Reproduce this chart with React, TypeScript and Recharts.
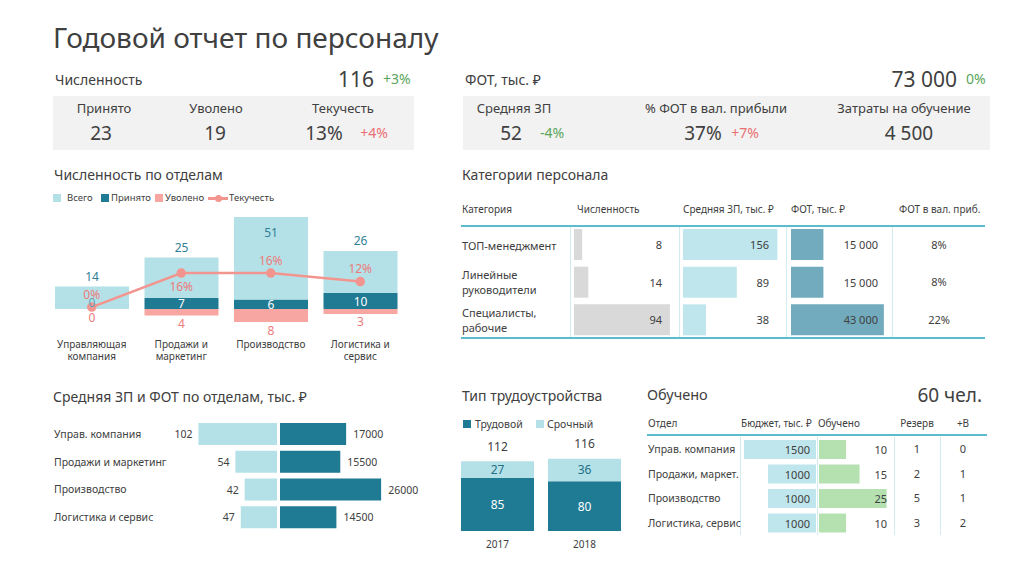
import React from "react";
import { Bar, BarChart, ComposedChart, LabelList, Line, XAxis, YAxis } from "recharts";

// Численность по отделам
const deptNames = ["Управляющая компания", "Продажи и маркетинг", "Производство", "Логистика и сервис"];
const deptTotal = [14, 25, 51, 26];
const deptHired = [0, 7, 6, 10];
const deptFired = [0, 4, 8, 3];
const deptTurnover = [0, 16, 16, 12];

// Средняя ЗП и ФОТ по отделам
const salDepts = ["Управ. компания", "Продажи и маркетинг", "Производство", "Логистика и сервис"];
const salAvg = [102, 54, 42, 47];
const salFot = [17000, 15500, 26000, 14500];

// Тип трудоустройства
const empYears = ["2017", "2018"];
const empPermanent = [85, 80];
const empTemporary = [27, 36];
const empTotal = [112, 116];

// Категории персонала
const catNames = ["ТОП-менеджмент", "Линейные руководители", "Специалисты, рабочие"];
const catCount = [8, 14, 94];
const catSalary = [156, 89, 38];
const catFot = [15000, 15000, 43000];
const catShare = ["8%", "8%", "22%"];

// Обучено
const trainDepts = ["Управ. компания", "Продажи, маркет.", "Производство", "Логистика, сервис"];
const trainBudget = [1500, 1000, 1000, 1000];
const trainCount = [10, 15, 25, 10];
const trainReserve = [1, 2, 5, 3];
const trainPlusB = [0, 1, 1, 2];

const FONT = "'Noto Sans', 'Open Sans', sans-serif";
const INK = "#404040";
const TEAL = "#1f7a93";
const LIGHT = "#b4e1e7";
const PINK = "#f7a6a2";
const LINE_PINK = "#f3958f";
const LABEL_PINK = "#ec7b7b";
const GREEN_TXT = "#5aa65a";
const RED_TXT = "#ea6f73";
const RULE = "#5bbccc";
const SEP = "#d3ecf0";

const spaced = (v: number) => String(v).replace(/\B(?=(\d{3})+(?!\d))/g, " ");
const plain = (v: number) => String(v);

function T({ x, y, size = 13, color = INK, anchor = "start", children }: any) {
  const tx = anchor === "middle" ? "-50%" : anchor === "end" ? "-100%" : "0";
  return (
    <div
      style={{
        position: "absolute",
        left: x,
        top: y,
        transform: `translate(${tx}, -50%)`,
        fontSize: size,
        color,
        lineHeight: 1.2,
        whiteSpace: "nowrap",
      }}
    >
      {children}
    </div>
  );
}

function Rect({ x, y, w, h, color }: any) {
  return <div style={{ position: "absolute", left: x, top: y, width: w, height: h, background: color }} />;
}

function Swatch({ x, y, color }: any) {
  return <Rect x={x} y={y - 4} w={8} h={8} color={color} />;
}

const DeptTick = ({ x, y, payload }: any) => {
  const s: string = payload.value;
  const i = s.lastIndexOf(" ");
  const lines = i > 0 ? [s.slice(0, i), s.slice(i + 1)] : [s];
  return (
    <text x={x} textAnchor="middle" fontSize={10} fill={INK} fontFamily={FONT}>
      {lines.map((l, k) => (
        <tspan key={k} x={x} y={y + 26 + k * 12}>
          {l}
        </tspan>
      ))}
    </text>
  );
};

// labels for the whole stack of one department, placed from the "Всего" bar geometry
const deptStackLabel = (p: any) => {
  const i = p.index;
  const cx = p.x + p.width / 2;
  const top = Math.min(p.y, p.y + p.height);
  const pxPerUnit = Math.abs(p.height) / p.value;
  const base = top + Math.abs(p.height) + deptHired[i] * pxPerUnit;
  const hiredH = deptHired[i] * pxPerUnit;
  const firedBottom = base + deptFired[i] * pxPerUnit;
  const totalY = top < 20 ? top + 15 : top - 10;
  const common = { textAnchor: "middle" as const, dominantBaseline: "central" as const, fontSize: 12, fontFamily: FONT };
  return (
    <g>
      <text x={cx} y={totalY} fill="#2f7f96" {...common}>
        {p.value}
      </text>
      <text x={cx} y={hiredH < 1 ? base - 7 : base - hiredH / 2} fill={hiredH < 1 ? "#5aa6b9" : "#fff"} {...common}>
        {deptHired[i]}
      </text>
      <text x={cx} y={firedBottom + 8} fill={LABEL_PINK} {...common}>
        {deptFired[i]}
      </text>
    </g>
  );
};

function DeptChart() {
  const data = deptNames.map((name, i) => ({
    name,
    hired: deptHired[i],
    total: deptTotal[i],
    fired: -deptFired[i],
    turnover: deptTurnover[i],
  }));
  return (
    <ComposedChart
      width={375}
      height={160}
      data={data}
      stackOffset="sign"
      margin={{ top: 7, right: 10, bottom: 0, left: 7 }}
    >
      <XAxis dataKey="name" axisLine={false} tickLine={false} tickSize={0} tickMargin={0} height={48} tick={<DeptTick />} interval={0} />
      <YAxis yAxisId="l" hide domain={[-8, 57]} allowDataOverflow />
      <YAxis yAxisId="r" hide orientation="right" domain={[-7, 42.4]} allowDataOverflow />
      <Bar yAxisId="l" dataKey="fired" stackId="a" fill={PINK} barSize={74} isAnimationActive={false} />
      <Bar yAxisId="l" dataKey="hired" stackId="a" fill={TEAL} barSize={74} isAnimationActive={false} />
      <Bar yAxisId="l" dataKey="total" stackId="a" fill={LIGHT} barSize={74} isAnimationActive={false}>
        <LabelList dataKey="total" content={deptStackLabel} />
      </Bar>
      <Line
        yAxisId="r"
        dataKey="turnover"
        stroke={LINE_PINK}
        strokeWidth={2.5}
        dot={{ r: 3.5, fill: LINE_PINK, stroke: LINE_PINK }}
        isAnimationActive={false}
      >
        <LabelList
          dataKey="turnover"
          content={(p: any) => (
            <text x={p.x} y={p.index === 1 ? p.y + 13 : p.y - 13} textAnchor="middle" dominantBaseline="central" fontSize={12} fill={LABEL_PINK} fontFamily={FONT}>
              {p.value + "%"}
            </text>
          )}
        />
      </Line>
    </ComposedChart>
  );
}

const SalTick = ({ y, payload }: any) => (
  <text x={14} y={y} dominantBaseline="central" fontSize={10.5} fill={INK} fontFamily={FONT}>
    {payload.value}
  </text>
);

function SalaryCharts() {
  const data = salDepts.map((name, i) => ({ name, avg: salAvg[i], fot: salFot[i] }));
  return (
    <>
      <div style={{ position: "absolute", left: 40, top: 420 }}>
        <BarChart width={238} height={111} data={data} layout="vertical" margin={{ top: 0, right: 1, bottom: 0, left: 0 }}>
          <XAxis type="number" hide reversed domain={[0, 154.5]} />
          <YAxis type="category" dataKey="name" width={118} axisLine={false} tickLine={false} tick={<SalTick />} />
          <Bar dataKey="avg" fill={LIGHT} barSize={22} isAnimationActive={false}>
            <LabelList
              dataKey="avg"
              content={(p: any) => (
                <text x={Math.min(p.x, p.x + p.width) - 6} y={p.y + p.height / 2} textAnchor="end" dominantBaseline="central" fontSize={10.5} fill={INK} fontFamily={FONT}>
                  {p.value}
                </text>
              )}
            />
          </Bar>
        </BarChart>
      </div>
      <div style={{ position: "absolute", left: 280, top: 420 }}>
        <BarChart width={160} height={111} data={data} layout="vertical" margin={{ top: 0, right: 0, bottom: 0, left: 0 }}>
          <XAxis type="number" hide domain={[0, 41130]} />
          <YAxis type="category" dataKey="name" hide />
          <Bar dataKey="fot" fill={TEAL} barSize={22} isAnimationActive={false}>
            <LabelList
              dataKey="fot"
              content={(p: any) => (
                <text x={Math.max(p.x, p.x + p.width) + 7} y={p.y + p.height / 2} dominantBaseline="central" fontSize={10.5} fill={INK} fontFamily={FONT}>
                  {p.value}
                </text>
              )}
            />
          </Bar>
        </BarChart>
      </div>
    </>
  );
}

const YearTick = ({ x, y, payload }: any) => (
  <text x={x} y={y + 13} textAnchor="middle" dominantBaseline="central" fontSize={10} fill={INK} fontFamily={FONT}>
    {payload.value}
  </text>
);

function EmploymentChart() {
  const data = empYears.map((year, i) => ({ year, perm: empPermanent[i], temp: empTemporary[i], total: empTotal[i] }));
  return (
    <BarChart width={174} height={126} data={data} margin={{ top: 20, right: 0, bottom: 0, left: 0 }}>
      <XAxis dataKey="year" axisLine={false} tickLine={false} tickSize={0} tickMargin={0} height={25} tick={<YearTick />} />
      <YAxis hide domain={[0, 130]} />
      <Bar dataKey="perm" stackId="e" fill={TEAL} barSize={73} isAnimationActive={false}>
        <LabelList
          dataKey="perm"
          content={(p: any) => (
            <text x={p.x + p.width / 2} y={p.y + p.height / 2} textAnchor="middle" dominantBaseline="central" fontSize={12} fill="#fff" fontFamily={FONT}>
              {p.value}
            </text>
          )}
        />
      </Bar>
      <Bar dataKey="temp" stackId="e" fill={LIGHT} barSize={73} isAnimationActive={false}>
        <LabelList
          dataKey="temp"
          content={(p: any) => (
            <text x={p.x + p.width / 2} y={p.y + p.height / 2} textAnchor="middle" dominantBaseline="central" fontSize={12} fill="#236f85" fontFamily={FONT}>
              {p.value}
            </text>
          )}
        />
        <LabelList
          dataKey="total"
          content={(p: any) => (
            <text x={p.x + p.width / 2} y={p.y - 15} textAnchor="middle" dominantBaseline="central" fontSize={12} fill={INK} fontFamily={FONT}>
              {p.value}
            </text>
          )}
        />
      </Bar>
    </BarChart>
  );
}

// one column of in-cell bars for the tables
function CellBars({ left, top, width, height, values, max, color, barSize, labelX, reversed, fmt = plain, fontSize = 11 }: any) {
  const data = values.map((v: number, i: number) => ({ row: String(i), v }));
  return (
    <div style={{ position: "absolute", left, top }}>
      <BarChart width={width} height={height} data={data} layout="vertical" margin={{ top: 0, right: 0, bottom: 0, left: 0 }}>
        <XAxis type="number" hide domain={[0, max]} reversed={reversed} />
        <YAxis type="category" dataKey="row" hide />
        <Bar dataKey="v" fill={color} barSize={barSize} isAnimationActive={false}>
          <LabelList
            dataKey="v"
            content={(p: any) => (
              <text x={labelX} y={p.y + p.height / 2} textAnchor="end" dominantBaseline="central" fontSize={fontSize} fill={INK} fontFamily={FONT}>
                {fmt(p.value)}
              </text>
            )}
          />
        </Bar>
      </BarChart>
    </div>
  );
}

export default function App() {
  const catTop = 226;
  const catRow = 37.5;
  const trTop = 437;
  const trRow = 24.5;
  return (
    <div
      style={{
        position: "absolute",
        left: 0,
        top: 0,
        width: 1024,
        height: 574,
        background: "#fff",
        fontFamily: FONT,
        color: INK,
        overflow: "hidden",
      }}
    >
      <T x={53} y={38} size={28}>Годовой отчет по персоналу</T>

      {/* Численность KPI */}
      <T x={55} y={80} size={14}>Численность</T>
      <T x={374} y={80} size={21} anchor="end">116</T>
      <T x={383} y={79} size={14} color={GREEN_TXT}>+3%</T>
      <Rect x={53} y={96} w={361} h={54} color="#f2f2f2" />
      <T x={104} y={109} size={13} anchor="middle">Принято</T>
      <T x={101} y={133} size={19} anchor="middle">23</T>
      <T x={216} y={109} size={13} anchor="middle">Уволено</T>
      <T x={215} y={133} size={19} anchor="middle">19</T>
      <T x={343} y={109} size={13} anchor="middle">Текучесть</T>
      <T x={324} y={133} size={19} anchor="middle">13%</T>
      <T x={374} y={133} size={14} anchor="middle" color={RED_TXT}>+4%</T>

      {/* ФОТ KPI */}
      <T x={465} y={80} size={14}>ФОТ, тыс. ₽</T>
      <T x={957} y={80} size={21} anchor="end">73 000</T>
      <T x={966} y={79} size={14} color={GREEN_TXT}>0%</T>
      <Rect x={463} y={96} w={527} h={54} color="#f2f2f2" />
      <T x={514} y={109} size={13} anchor="middle">Средняя ЗП</T>
      <T x={511} y={133} size={19} anchor="middle">52</T>
      <T x={552} y={133} size={14} anchor="middle" color={GREEN_TXT}>-4%</T>
      <T x={716} y={109} size={13} anchor="middle">% ФОТ в вал. прибыли</T>
      <T x={703} y={133} size={19} anchor="middle">37%</T>
      <T x={745} y={133} size={14} anchor="middle" color={RED_TXT}>+7%</T>
      <T x={904} y={109} size={13} anchor="middle">Затраты на обучение</T>
      <T x={909} y={133} size={19} anchor="middle">4 500</T>

      {/* Численность по отделам */}
      <T x={54} y={175} size={14}>Численность по отделам</T>
      <Swatch x={53} y={198} color={LIGHT} />
      <T x={67} y={198} size={9.5}>Всего</T>
      <Swatch x={101} y={198} color={TEAL} />
      <T x={111} y={198} size={9.5}>Принято</T>
      <Swatch x={155} y={198} color={PINK} />
      <T x={165} y={198} size={9.5}>Уволено</T>
      <Rect x={208} y={197} w={20} h={2.5} color={LINE_PINK} />
      <div style={{ position: "absolute", left: 214.5, top: 194.5, width: 7, height: 7, borderRadius: 4, background: LINE_PINK }} />
      <T x={229} y={198} size={9.5}>Текучесть</T>
      <div style={{ position: "absolute", left: 40, top: 210 }}>
        <DeptChart />
      </div>

      {/* Средняя ЗП и ФОТ по отделам */}
      <T x={53} y={397} size={14}>Средняя ЗП и ФОТ по отделам, тыс. ₽</T>
      <SalaryCharts />

      {/* Тип трудоустройства */}
      <T x={462} y={396} size={14}>Тип трудоустройства</T>
      <Swatch x={463} y={424} color={TEAL} />
      <T x={475} y={424} size={10.5}>Трудовой</T>
      <Swatch x={536} y={424} color={LIGHT} />
      <T x={547} y={424} size={10.5}>Срочный</T>
      <div style={{ position: "absolute", left: 454, top: 430 }}>
        <EmploymentChart />
      </div>

      {/* Категории персонала */}
      <T x={462} y={175} size={14}>Категории персонала</T>
      <T x={462} y={209} size={10}>Категория</T>
      <T x={577} y={209} size={10}>Численность</T>
      <T x={683} y={209} size={10}>Средняя ЗП, тыс. ₽</T>
      <T x={791} y={209} size={10}>ФОТ, тыс. ₽</T>
      <T x={899} y={209} size={10}>ФОТ в вал. приб.</T>
      {[570, 679, 786, 892].map((x) => (
        <Rect key={x} x={x} y={catTop} w={1} h={112} color={SEP} />
      ))}
      <CellBars left={574} top={catTop} width={100} height={113} values={catCount} max={98} color="#d9d9d9" barSize={31} labelX={88} />
      <CellBars left={683} top={catTop} width={100} height={113} values={catSalary} max={165.3} color="#bfe6ec" barSize={31} labelX={86} />
      <CellBars left={791} top={catTop} width={98} height={113} values={catFot} max={45370} color="#72abbe" barSize={31} labelX={87} fmt={spaced} />
      <Rect x={461} y={catTop - 1} w={524} h={2} color={RULE} />
      <Rect x={461} y={catTop + 111} w={524} h={2} color={RULE} />
      {catNames.map((n, i) => (
        <div
          key={n}
          style={{
            position: "absolute",
            left: 462,
            top: catTop + catRow * (i + 0.5),
            transform: "translateY(-50%)",
            width: 100,
            fontSize: 11,
            lineHeight: "15px",
          }}
        >
          {n}
        </div>
      ))}
      {catShare.map((s, i) => (
        <T key={i} x={939} y={catTop + catRow * (i + 0.5)} size={11} anchor="middle">
          {s}
        </T>
      ))}

      {/* Обучено */}
      <T x={647} y={395} size={14.5}>Обучено</T>
      <T x={982} y={395} size={19} anchor="end">60 чел.</T>
      <T x={648} y={423} size={10}>Отдел</T>
      <T x={741} y={423} size={10}>Бюджет, тыс. ₽</T>
      <T x={818} y={423} size={10}>Обучено</T>
      <T x={917} y={423} size={10} anchor="middle">Резерв</T>
      <T x={963} y={423} size={10} anchor="middle">+В</T>
      {[740, 817, 894, 940].map((x) => (
        <Rect key={x} x={x} y={trTop} w={1} h={98} color={SEP} />
      ))}
      <CellBars left={742} top={trTop} width={74} height={98} values={trainBudget} max={1542} color="#bfe6ec" barSize={19} labelX={68} reversed />
      <CellBars left={819} top={trTop} width={73} height={98} values={trainCount} max={27} color="#b5e0b0" barSize={19} labelX={68} />
      <Rect x={647} y={434} w={340} h={2} color={RULE} />
      {trainDepts.map((n, i) => (
        <T key={n} x={648} y={trTop + trRow * (i + 0.5)} size={10.5}>
          {n}
        </T>
      ))}
      {trainReserve.map((v, i) => (
        <T key={i} x={917} y={trTop + trRow * (i + 0.5)} size={11} anchor="middle">
          {v}
        </T>
      ))}
      {trainPlusB.map((v, i) => (
        <T key={i} x={963} y={trTop + trRow * (i + 0.5)} size={11} anchor="middle">
          {v}
        </T>
      ))}
    </div>
  );
}
